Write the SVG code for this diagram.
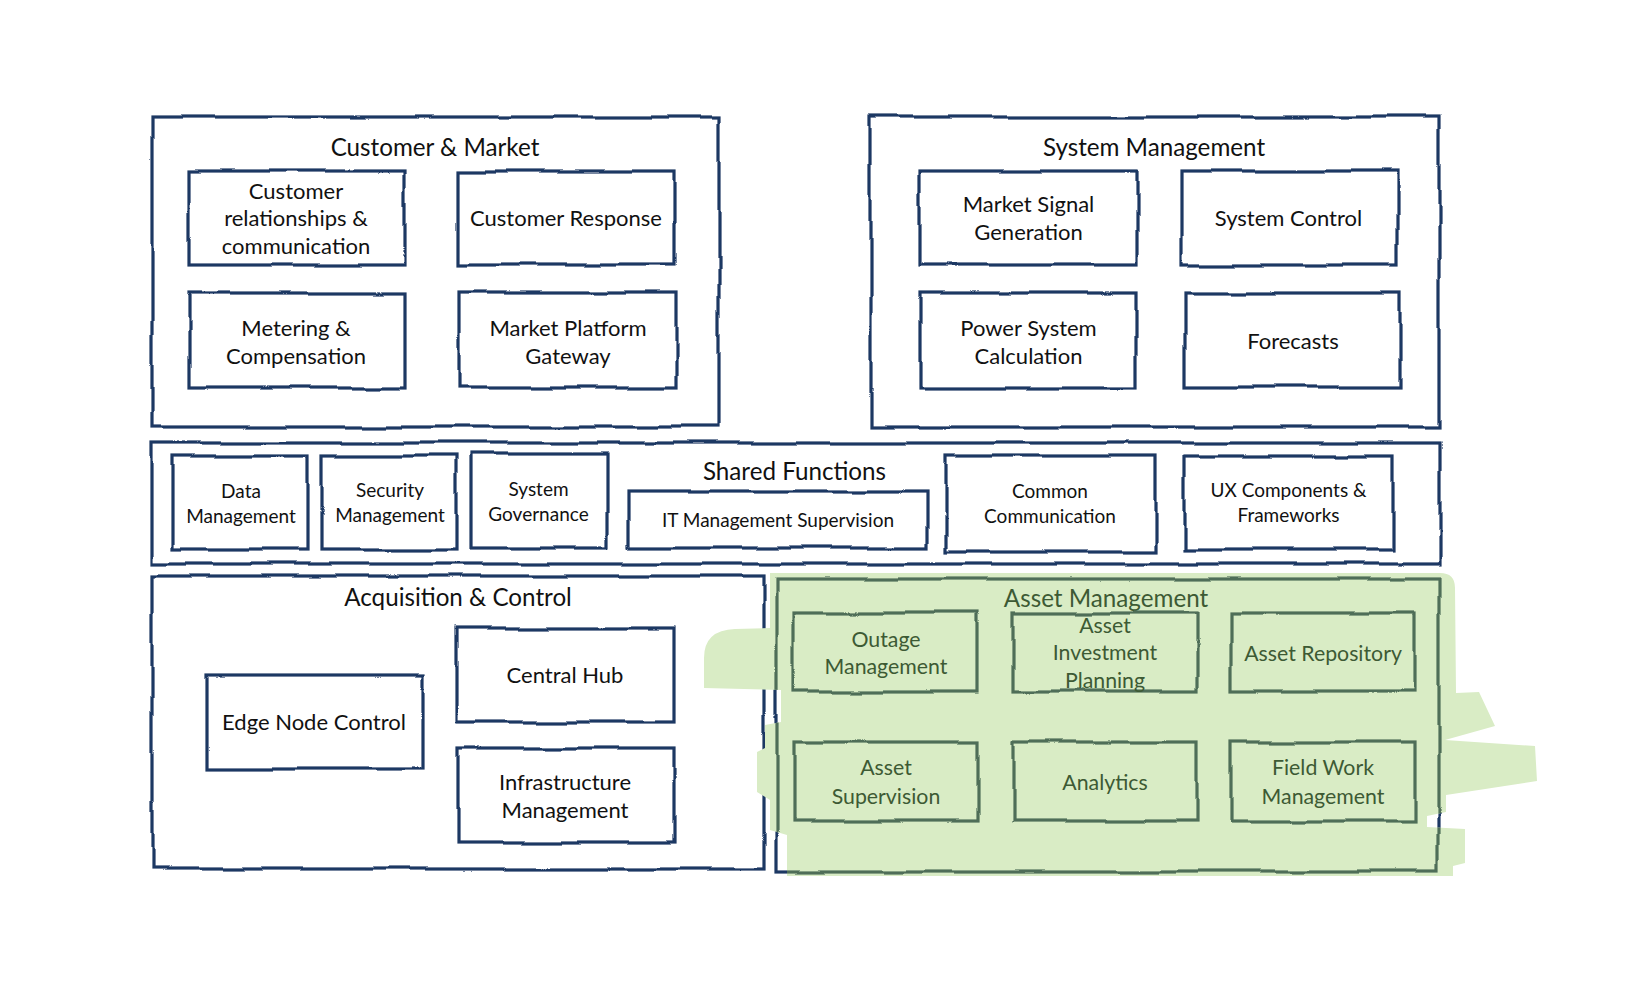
<svg xmlns="http://www.w3.org/2000/svg" width="1636" height="987" viewBox="0 0 1636 987">
<defs>
<filter id="rough" filterUnits="userSpaceOnUse" x="0" y="0" width="1636" height="987">
<feTurbulence type="fractalNoise" baseFrequency="0.012" numOctaves="2" seed="7" result="n"/>
<feDisplacementMap in="SourceGraphic" in2="n" scale="7" xChannelSelector="R" yChannelSelector="G"/>
</filter>
<clipPath id="blobclip">
<path d="M770,573 L1440,573 Q1455,573 1455,588 L1456,693 L1479,692 L1495,726 L1445,740 L1535,746 L1537,781 L1446,795 L1446,812 L1427,816 L1427,827 L1465,829 L1465,863 L1453,866 L1453,876 L787,876 L787,835 L770,830 L770,800 L757,792 L757,752 L765,748 L765,725 L781,722 L781,690 L704,688 L704,658 Q704,630 735,629 L770,628 Z"/>
</clipPath>
</defs>
<style>
.box{fill:none;stroke:#1f3864;stroke-width:3.2;filter:url(#rough)}
.gbox{fill:none;stroke:#4f6e59;stroke-width:3.2;filter:url(#rough)}
.t{font-family:Lato,"Open Sans",sans-serif;fill:#111;text-anchor:middle}
.ttl{font-size:24.2px}
.lbl{font-size:22px}
.albl{font-size:21.3px}
.sm{font-size:19px}
.g{fill:#3d5a34}
.blob{fill:#d9ecc5}
</style>
<rect width="1636" height="987" fill="#fff"/>

<g id="customer-market">
<rect class="box" x="152" y="117" width="567" height="310"/>
<text class="t ttl" x="435" y="156">Customer &amp; Market</text>
</g>
<g id="customer-relationships">
<rect class="box" x="189" y="171" width="216" height="94"/>
<text class="t lbl" x="296" y="199">Customer</text>
<text class="t lbl" x="296" y="226">relationships &amp;</text>
<text class="t lbl" x="296" y="254">communication</text>
</g>
<g id="customer-response">
<rect class="box" x="458" y="171" width="216" height="94"/>
<text class="t lbl" x="566" y="226">Customer Response</text>
</g>
<g id="metering">
<rect class="box" x="189" y="293" width="216" height="95"/>
<text class="t lbl" x="296" y="335.5">Metering &amp;</text>
<text class="t lbl" x="296" y="364">Compensation</text>
</g>
<g id="market-platform">
<rect class="box" x="460" y="293" width="217" height="95"/>
<text class="t lbl" x="568" y="335.5">Market Platform</text>
<text class="t lbl" x="568" y="364">Gateway</text>
</g>

<g id="system-management">
<rect class="box" x="871" y="117" width="568" height="310"/>
<text class="t ttl" x="1154" y="156">System Management</text>
</g>
<g id="market-signal">
<rect class="box" x="920" y="171" width="217" height="94"/>
<text class="t lbl" x="1028.5" y="212">Market Signal</text>
<text class="t lbl" x="1028.5" y="239.5">Generation</text>
</g>
<g id="system-control">
<rect class="box" x="1181" y="171" width="216" height="94"/>
<text class="t lbl" x="1288.5" y="226">System Control</text>
</g>
<g id="power-system">
<rect class="box" x="920" y="293" width="217" height="95"/>
<text class="t lbl" x="1028.5" y="335.5">Power System</text>
<text class="t lbl" x="1028.5" y="364">Calculation</text>
</g>
<g id="forecasts">
<rect class="box" x="1185" y="293" width="216" height="94"/>
<text class="t lbl" x="1293" y="349">Forecasts</text>
</g>

<g id="shared-functions">
<rect class="box" x="152" y="443" width="1287" height="121"/>
<text class="t ttl" x="794.5" y="480">Shared Functions</text>
</g>
<g id="data-management">
<rect class="box" x="173" y="456" width="135" height="94"/>
<text class="t sm" x="241" y="498">Data</text>
<text class="t sm" x="241" y="523">Management</text>
</g>
<g id="security-management">
<rect class="box" x="322" y="456" width="135" height="94"/>
<text class="t sm" x="390" y="497">Security</text>
<text class="t sm" x="390" y="522">Management</text>
</g>
<g id="system-governance">
<rect class="box" x="472" y="454" width="135" height="94"/>
<text class="t sm" x="538.5" y="496">System</text>
<text class="t sm" x="538.5" y="521">Governance</text>
</g>
<g id="it-management">
<rect class="box" x="628" y="491" width="299" height="57"/>
<text class="t sm" x="778" y="526.5">IT Management Supervision</text>
</g>
<g id="common-communication">
<rect class="box" x="946" y="456" width="209" height="96"/>
<text class="t sm" x="1050" y="498">Common</text>
<text class="t sm" x="1050" y="523">Communication</text>
</g>
<g id="ux-components">
<rect class="box" x="1184" y="456" width="209" height="94"/>
<text class="t sm" x="1288.5" y="497">UX Components &amp;</text>
<text class="t sm" x="1288.5" y="522">Frameworks</text>
</g>

<g id="acquisition-control">
<rect class="box" x="152" y="576" width="612" height="293"/>
<text class="t ttl" x="458" y="606">Acquisition &amp; Control</text>
</g>
<g id="edge-node">
<rect class="box" x="206" y="675" width="217" height="94"/>
<text class="t lbl" x="314" y="730">Edge Node Control</text>
</g>
<g id="central-hub">
<rect class="box" x="458" y="628" width="216" height="94"/>
<text class="t lbl" x="565" y="683">Central Hub</text>
</g>
<g id="infrastructure">
<rect class="box" x="458" y="748" width="216" height="94"/>
<text class="t lbl" x="565" y="790">Infrastructure</text>
<text class="t lbl" x="565" y="818">Management</text>
</g>

<g id="asset-management">
<rect class="box" x="776" y="579" width="663" height="293"/>
<path class="blob" d="M770,573 L1440,573 Q1455,573 1455,588 L1456,693 L1479,692 L1495,726 L1445,740 L1535,746 L1537,781 L1446,795 L1446,812 L1427,816 L1427,827 L1465,829 L1465,863 L1453,866 L1453,876 L787,876 L787,835 L770,830 L770,800 L757,792 L757,752 L765,748 L765,725 L781,722 L781,690 L704,688 L704,658 Q704,630 735,629 L770,628 Z"/>
<g clip-path="url(#blobclip)"><rect class="gbox" x="777" y="579" width="662" height="293"/></g>
<text class="t ttl g" x="1106" y="607">Asset Management</text>
</g>
<g id="outage-management">
<rect class="gbox" x="794" y="613" width="184" height="78"/>
<text class="t albl g" x="886" y="647">Outage</text>
<text class="t albl g" x="886" y="674">Management</text>
</g>
<g id="asset-investment">
<rect class="gbox" x="1013" y="613" width="184" height="78"/>
<text class="t albl g" x="1105" y="633">Asset</text>
<text class="t albl g" x="1105" y="660">Investment</text>
<text class="t albl g" x="1105" y="688">Planning</text>
</g>
<g id="asset-repository">
<rect class="gbox" x="1231" y="613" width="184" height="78"/>
<text class="t albl g" x="1323" y="661">Asset Repository</text>
</g>
<g id="asset-supervision">
<rect class="gbox" x="794" y="742" width="184" height="79"/>
<text class="t albl g" x="886" y="775">Asset</text>
<text class="t albl g" x="886" y="803.5">Supervision</text>
</g>
<g id="analytics">
<rect class="gbox" x="1013" y="742" width="184" height="79"/>
<text class="t albl g" x="1105" y="790">Analytics</text>
</g>
<g id="field-work">
<rect class="gbox" x="1231" y="742" width="184" height="79"/>
<text class="t albl g" x="1323" y="775">Field Work</text>
<text class="t albl g" x="1323" y="803.5">Management</text>
</g>

<g id="connectors"/>
</svg>
